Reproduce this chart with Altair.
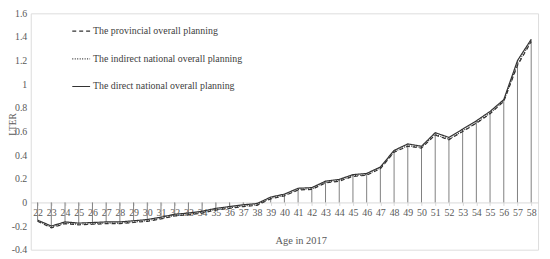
import altair as alt
import pandas as pd

ages = list(range(22, 59))

direct = [-0.15, -0.20, -0.165, -0.175, -0.17, -0.165, -0.165, -0.155, -0.145, -0.125,
          -0.10, -0.09, -0.075, -0.05, -0.035, -0.02, -0.01, 0.045, 0.07, 0.12,
          0.125, 0.18, 0.195, 0.235, 0.245, 0.30, 0.44, 0.495, 0.475, 0.59,
          0.55, 0.62, 0.69, 0.77, 0.87, 1.20, 1.38]

provincial = [-0.16, -0.215, -0.18, -0.19, -0.185, -0.18, -0.18, -0.17, -0.16, -0.14,
              -0.115, -0.105, -0.09, -0.065, -0.05, -0.035, -0.025, 0.03, 0.055, 0.105,
              0.11, 0.165, 0.18, 0.22, 0.23, 0.285, 0.425, 0.475, 0.46, 0.57,
              0.53, 0.60, 0.67, 0.75, 0.855, 1.16, 1.36]

indirect = [-0.155, -0.21, -0.175, -0.185, -0.18, -0.175, -0.175, -0.165, -0.155, -0.135,
            -0.11, -0.10, -0.085, -0.06, -0.045, -0.03, -0.02, 0.035, 0.06, 0.11,
            0.115, 0.17, 0.185, 0.225, 0.235, 0.29, 0.43, 0.48, 0.465, 0.575,
            0.535, 0.605, 0.675, 0.755, 0.86, 1.17, 1.37]

series_names = ["The provincial overall planning",
                "The indirect national overall planning",
                "The direct national overall planning"]

y_ticks = [-0.4, -0.2, 0, 0.2, 0.4, 0.6, 0.8, 1.0, 1.2, 1.4, 1.6]

rows = []
for name, vals in zip(series_names, [provincial, indirect, direct]):
    for a, v in zip(ages, vals):
        rows.append({"age": a, "value": v, "series": name})
df_long = pd.DataFrame(rows)
df_direct = pd.DataFrame({"age": ages, "value": direct})

FONT = "Liberation Serif"
TXT = "#595959"
H = 239
W = 513
TOP = 4
zero_px = H * 1.6 / 2.0

x_enc = alt.X("age:Q",
              scale=alt.Scale(domain=[21.5, 58.5], nice=False, zero=False),
              axis=alt.Axis(values=ages, labelExpr="toString(datum.value)",
                            title="Age in 2017", offset=-(H - zero_px),
                            grid=False, domainColor="#d9d9d9", tickColor="#d9d9d9",
                            tickSize=3, labelPadding=2, labelFont=FONT, labelFontSize=10,
                            labelColor=TXT, titleFont=FONT, titleFontSize=10.5,
                            titleFontWeight="normal", titleColor=TXT,
                            titleX=273, titleY=39, titleBaseline="middle",
                            labelOverlap=False))
y_enc = alt.Y("value:Q",
              scale=alt.Scale(domain=[-0.4, 1.6], nice=False, zero=False),
              axis=alt.Axis(values=y_ticks, labelExpr="toString(round(datum.value*10)/10)",
                            title="LTER", grid=False, domain=False, ticks=False,
                            labelPadding=4, labelFont=FONT, labelFontSize=10, labelColor=TXT,
                            titleFont=FONT, titleFontSize=9.5, titleFontWeight="normal",
                            titleColor=TXT, titleX=-18, titleY=112, titleBaseline="middle",
                            titleAlign="center"))

drops = alt.Chart(df_direct).mark_rule(color="#7f7f7f", strokeWidth=1).encode(
    x=x_enc, y=y_enc, y2=alt.datum(0))

lines = alt.Chart(df_long).mark_line(color="#333333", strokeWidth=1.2).encode(
    x=x_enc, y=y_enc,
    strokeDash=alt.StrokeDash(
        "series:N",
        scale=alt.Scale(domain=series_names, range=[[4, 3], [1, 1.5], [1, 0]]),
        sort=series_names,
        legend=alt.Legend(title=None, orient="none", legendX=41, legendY=8,
                          symbolType="stroke", symbolSize=324, symbolStrokeWidth=1.2,
                          symbolStrokeColor="#333333", labelFont=FONT, labelFontSize=10,
                          labelColor="#404040", rowPadding=13, labelOffset=2,
                          labelLimit=300)))

chart = alt.layer(drops, lines).properties(
    width=W, height=H,
    autosize=alt.AutoSizeParams(type="none"),
    padding={"left": 23, "top": TOP, "right": 4, "bottom": 6},
).configure_view(stroke=None).configure(background="white")

chart.save("out.html", embed_options={"renderer": "svg", "actions": False})
